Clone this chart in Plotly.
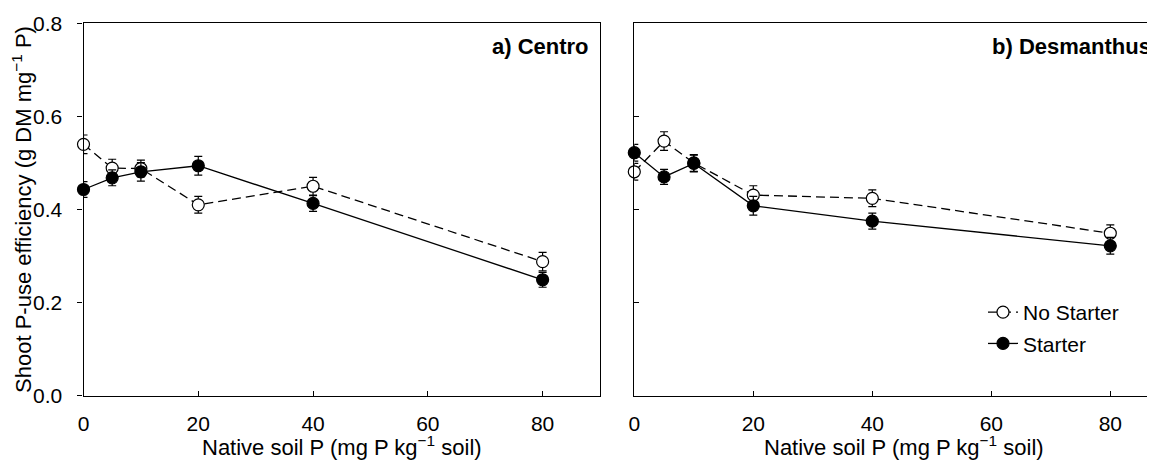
import plotly.graph_objects as go

# ---- data ----
native_p = [0, 5, 10, 20, 40, 80]

centro_no_starter = [0.540, 0.489, 0.488, 0.410, 0.450, 0.288]
centro_no_starter_err = [0.020, 0.019, 0.018, 0.018, 0.019, 0.020]
centro_starter = [0.443, 0.468, 0.481, 0.494, 0.413, 0.249]
centro_starter_err = [0.017, 0.017, 0.020, 0.020, 0.017, 0.016]

desm_no_starter = [0.481, 0.547, 0.500, 0.431, 0.424, 0.349]
desm_no_starter_err = [0.018, 0.020, 0.018, 0.020, 0.018, 0.018]
desm_starter = [0.522, 0.470, 0.499, 0.408, 0.375, 0.322]
desm_starter_err = [0.018, 0.016, 0.018, 0.020, 0.017, 0.018]

y_ticks = [0.0, 0.2, 0.4, 0.6, 0.8]
x_ticks = [0, 20, 40, 60, 80]
panel_titles = ["a) Centro", "b) Desmanthus"]
series_names = ["No Starter", "Starter"]
x_title = "Native soil P (mg P kg<sup>−1</sup> soil)"
y_title = "Shoot P-use efficiency (g DM mg<sup>−1</sup> P)"

FONT = "Liberation Sans, Arial, sans-serif"
OFF = 8  # page body margin
W, H = 1155 - OFF, 460 - OFF


def fx(px):
    return (px - OFF) / W


def fy(py):
    return (H - (py - OFF)) / H


fig = go.Figure()


def add_series(x, y, err, xa, ya, name, filled, show):
    fig.add_trace(go.Scatter(
        x=x, y=y, xaxis=xa, yaxis=ya, name=name,
        mode="lines+markers",
        line=dict(color="black", width=1.3, dash="solid" if filled else "9px,5px"),
        marker=dict(symbol="circle", size=12,
                    color="black" if filled else "white",
                    line=dict(color="black", width=1.2)),
        error_y=dict(type="data", array=err, visible=True,
                     color="black", thickness=1.2, width=4),
        cliponaxis=False,
        showlegend=show,
        legendgroup=name,
    ))


add_series(native_p, centro_no_starter, centro_no_starter_err, "x", "y", series_names[0], False, False)
add_series(native_p, centro_starter, centro_starter_err, "x", "y", series_names[1], True, False)
add_series(native_p, desm_no_starter, desm_no_starter_err, "x2", "y2", series_names[0], False, True)
add_series(native_p, desm_starter, desm_starter_err, "x2", "y2", series_names[1], True, True)

y_dom = [fy(395.7), fy(23.3)]
x1_dom = [fx(83.5), fx(600)]
x2_dom = [fx(634.3), 1.0]

common_x = dict(
    tickvals=x_ticks, ticks="inside", ticklen=5, tickwidth=1, tickcolor="black",
    showline=True, linecolor="black", linewidth=1.2, mirror=True,
    showgrid=False, zeroline=False, automargin=False,
    tickfont=dict(family=FONT, size=21, color="black"),
    ticklabelstandoff=9,
)
fig.update_layout(
    xaxis=dict(domain=x1_dom, range=[0, 90], anchor="y", **common_x),
    xaxis2=dict(domain=x2_dom, range=[0, (1155 - 634.3) / 5.95], anchor="y2", **common_x),
    yaxis=dict(
        domain=y_dom, range=[0, 0.8], anchor="x", automargin=False,
        tickvals=y_ticks, tickformat=".1f", ticks="outside", ticklen=5, tickwidth=1, tickcolor="black",
        showline=True, linecolor="black", linewidth=1.2, mirror=True,
        showgrid=False, zeroline=False,
        tickfont=dict(family=FONT, size=21, color="black"),
        ticklabelstandoff=11,
        title=dict(text=y_title, font=dict(family=FONT, size=22, color="black"), standoff=6),
    ),
    yaxis2=dict(
        domain=y_dom, range=[0, 0.8], anchor="x2", automargin=False,
        tickvals=y_ticks, showticklabels=False, ticks="inside", ticklen=5, tickwidth=1, tickcolor="black",
        showline=True, linecolor="black", linewidth=1.2, mirror=False,
        showgrid=False, zeroline=False,
    ),
)

# x-axis titles (as text annotations for exact placement)
for cx in (342, 904):
    fig.add_annotation(text=x_title, xref="paper", yref="paper",
                       x=fx(cx), y=fy(446), xanchor="center", yanchor="middle", showarrow=False,
                       font=dict(family=FONT, size=22, color="black"))

fig.add_annotation(text="<b>" + panel_titles[0] + "</b>", xref="paper", yref="paper",
                   x=fx(591), y=fy(46), xanchor="right", yanchor="middle", showarrow=False,
                   font=dict(family=FONT, size=22, color="black"))
fig.add_annotation(text="<b>" + panel_titles[1] + "</b>", xref="paper", yref="paper",
                   x=fx(1153), y=fy(46), xanchor="right", yanchor="middle", showarrow=False,
                   font=dict(family=FONT, size=22, color="black"))

fig.update_layout(
    width=W, height=H, autosize=False,
    margin=dict(l=0, r=0, t=0, b=0, autoexpand=False),
    paper_bgcolor="white", plot_bgcolor="white",
    font=dict(family=FONT, size=20, color="black"),
    legend=dict(x=fx(983), y=fy(292), xanchor="left", yanchor="top",
                bgcolor="rgba(0,0,0,0)", font=dict(family=FONT, size=21, color="black"),
                tracegroupgap=1, itemwidth=30),
)

fig.write_html("out.html")
